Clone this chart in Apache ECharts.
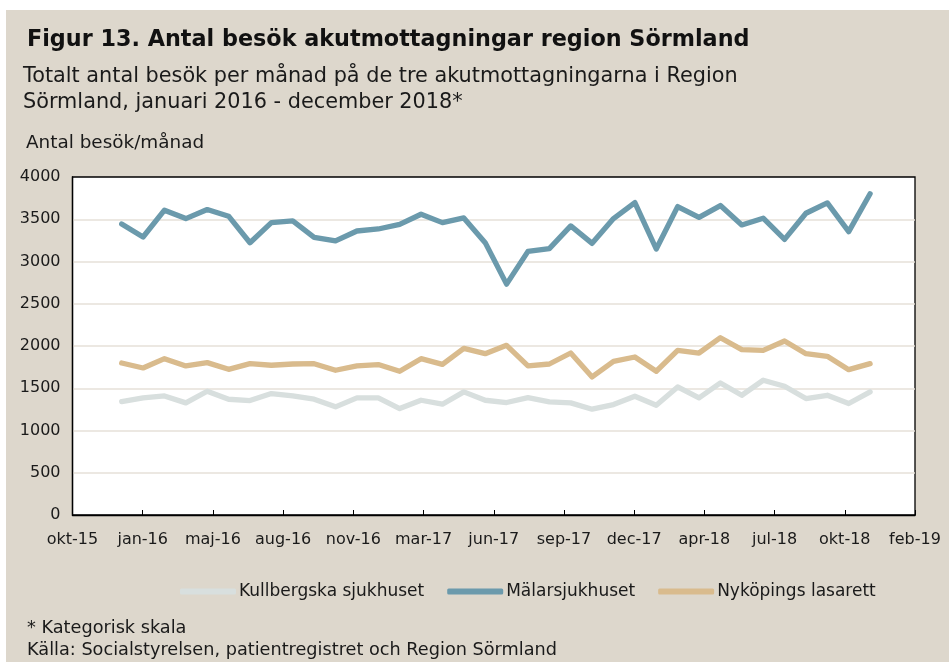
<!DOCTYPE html>
<html>
<head>
<meta charset="utf-8">
<script src="https://cdn.jsdelivr.net/npm/echarts@6/dist/echarts.min.js"></script>
<style>
  html, body { margin: 0; padding: 0; background: #ffffff; }
  #chart { position: absolute; left: 6px; top: 10px; width: 943px; height: 652px; }
</style>
</head>
<body>
<div id="chart"></div>
<script>
// månad 0 = jan-16 ... 35 = dec-18
var months = [];
for (var m = 0; m < 36; m++) { months.push(m); }

var tickLabels = ['okt-15', 'jan-16', 'maj-16', 'aug-16', 'nov-16', 'mar-17', 'jun-17',
                  'sep-17', 'dec-17', 'apr-18', 'jul-18', 'okt-18', 'feb-19'];

var kullbergska = [1343, 1386, 1409, 1327, 1465, 1370, 1354, 1437, 1409, 1370,
                   1280, 1386, 1386, 1260, 1358, 1311, 1457, 1358, 1331, 1390,
                   1339, 1327, 1252, 1307, 1406, 1299, 1516, 1386, 1563, 1417,
                   1595, 1524, 1378, 1417, 1319, 1457];
var malarsjukhuset = [3444, 3290, 3607, 3508, 3615, 3536, 3222, 3460, 3480, 3286,
                      3243, 3361, 3385, 3440, 3559, 3460, 3516, 3223, 2732, 3120,
                      3152, 3421, 3215, 3508, 3698, 3148, 3650, 3523, 3662, 3433,
                      3512, 3262, 3571, 3694, 3353, 3801];
var nykoping = [1799, 1740, 1850, 1764, 1803, 1724, 1791, 1772, 1787, 1791,
                1713, 1764, 1780, 1701, 1850, 1783, 1972, 1909, 2008, 1764,
                1787, 1917, 1634, 1819, 1870, 1701, 1949, 1917, 2098, 1957,
                1949, 2059, 1909, 1878, 1720, 1791];

var FONT = 'DejaVu Sans';
var TXT = '#1a1a1a';

function pairs(vals) {
    return vals.map(function(v, i) { return [months[i], v]; });
}

function mkSeries(name, vals, color) {
    return {
        name: name,
        type: 'line',
        xAxisIndex: 0,
        data: pairs(vals),
        showSymbol: false,
        symbol: 'none',
        lineStyle: { color: color, width: 5.3, cap: 'round', join: 'round' },
        itemStyle: { color: color },
        emphasis: { disabled: true },
        animation: false
    };
}

var chart = echarts.init(document.getElementById('chart'));
chart.setOption({
    backgroundColor: '#ddd7cc',
    animation: false,
    textStyle: { fontFamily: FONT, color: TXT },
    graphic: [
        { type: 'text', left: 21, top: 19,
          style: { text: 'Figur 13. Antal besök akutmottagningar region Sörmland',
                   font: 'bold 22.3px "DejaVu Sans"', fill: '#111' } },
        { type: 'text', left: 17, top: 54,
          style: { text: 'Totalt antal besök per månad på de tre akutmottagningarna i Region\nSörmland, januari 2016 - december 2018*',
                   font: '20.8px "DejaVu Sans"', fill: TXT, lineHeight: 26 } },
        { type: 'text', left: 20, top: 124,
          style: { text: 'Antal besök/månad', font: '18.4px "DejaVu Sans"', fill: TXT } },
        { type: 'text', left: 21, top: 607,
          style: { text: '* Kategorisk skala\nKälla: Socialstyrelsen, patientregistret och Region Sörmland',
                   font: '17.7px "DejaVu Sans"', fill: TXT, lineHeight: 22 } }
    ],
    legend: {
        left: 169,
        top: 568,
        itemWidth: 56,
        itemHeight: 6,
        itemGap: 23,
        icon: 'roundRect',
        textStyle: { fontFamily: FONT, fontSize: 17, color: TXT, padding: [0, 0, 0, -2] },
        data: ['Kullbergska sjukhuset', 'Mälarsjukhuset', 'Nyköpings lasarett']
    },
    grid: {
        left: 66.5, top: 167, right: 34, bottom: 147,
        show: true, backgroundColor: '#ffffff', borderColor: '#000', borderWidth: 1.3,
        containLabel: false
    },
    xAxis: [
        {
            type: 'value', min: -2.3, max: 37.1,
            show: false
        },
        {
            type: 'value', min: 0, max: 12, interval: 1,
            position: 'bottom',
            axisLine: { show: true, onZero: false, lineStyle: { color: '#000', width: 1.3 } },
            axisTick: { show: true, inside: true, length: 5, lineStyle: { color: '#000' } },
            splitLine: { show: false },
            axisLabel: {
                fontFamily: FONT, fontSize: 16, color: TXT, margin: 17,
                showMinLabel: true, showMaxLabel: true,
                formatter: function(v) { return tickLabels[Math.round(v)]; }
            }
        }
    ],
    yAxis: {
        type: 'value', min: 0, max: 4000, interval: 500,
        axisLine: { show: true, onZero: false, lineStyle: { color: '#000', width: 1.3 } },
        axisTick: { show: false },
        splitLine: { show: true, showMinLine: false, showMaxLine: false,
                     lineStyle: { color: '#e6e1d8', width: 1.5 } },
        axisLabel: { fontFamily: FONT, fontSize: 16, color: TXT, margin: 12,
                     formatter: function(v) { return String(v); } }
    },
    series: [
        mkSeries('Kullbergska sjukhuset', kullbergska, '#d8dfde'),
        mkSeries('Mälarsjukhuset', malarsjukhuset, '#6b9aac'),
        mkSeries('Nyköpings lasarett', nykoping, '#d9bb8d')
    ]
});
</script>
</body>
</html>
